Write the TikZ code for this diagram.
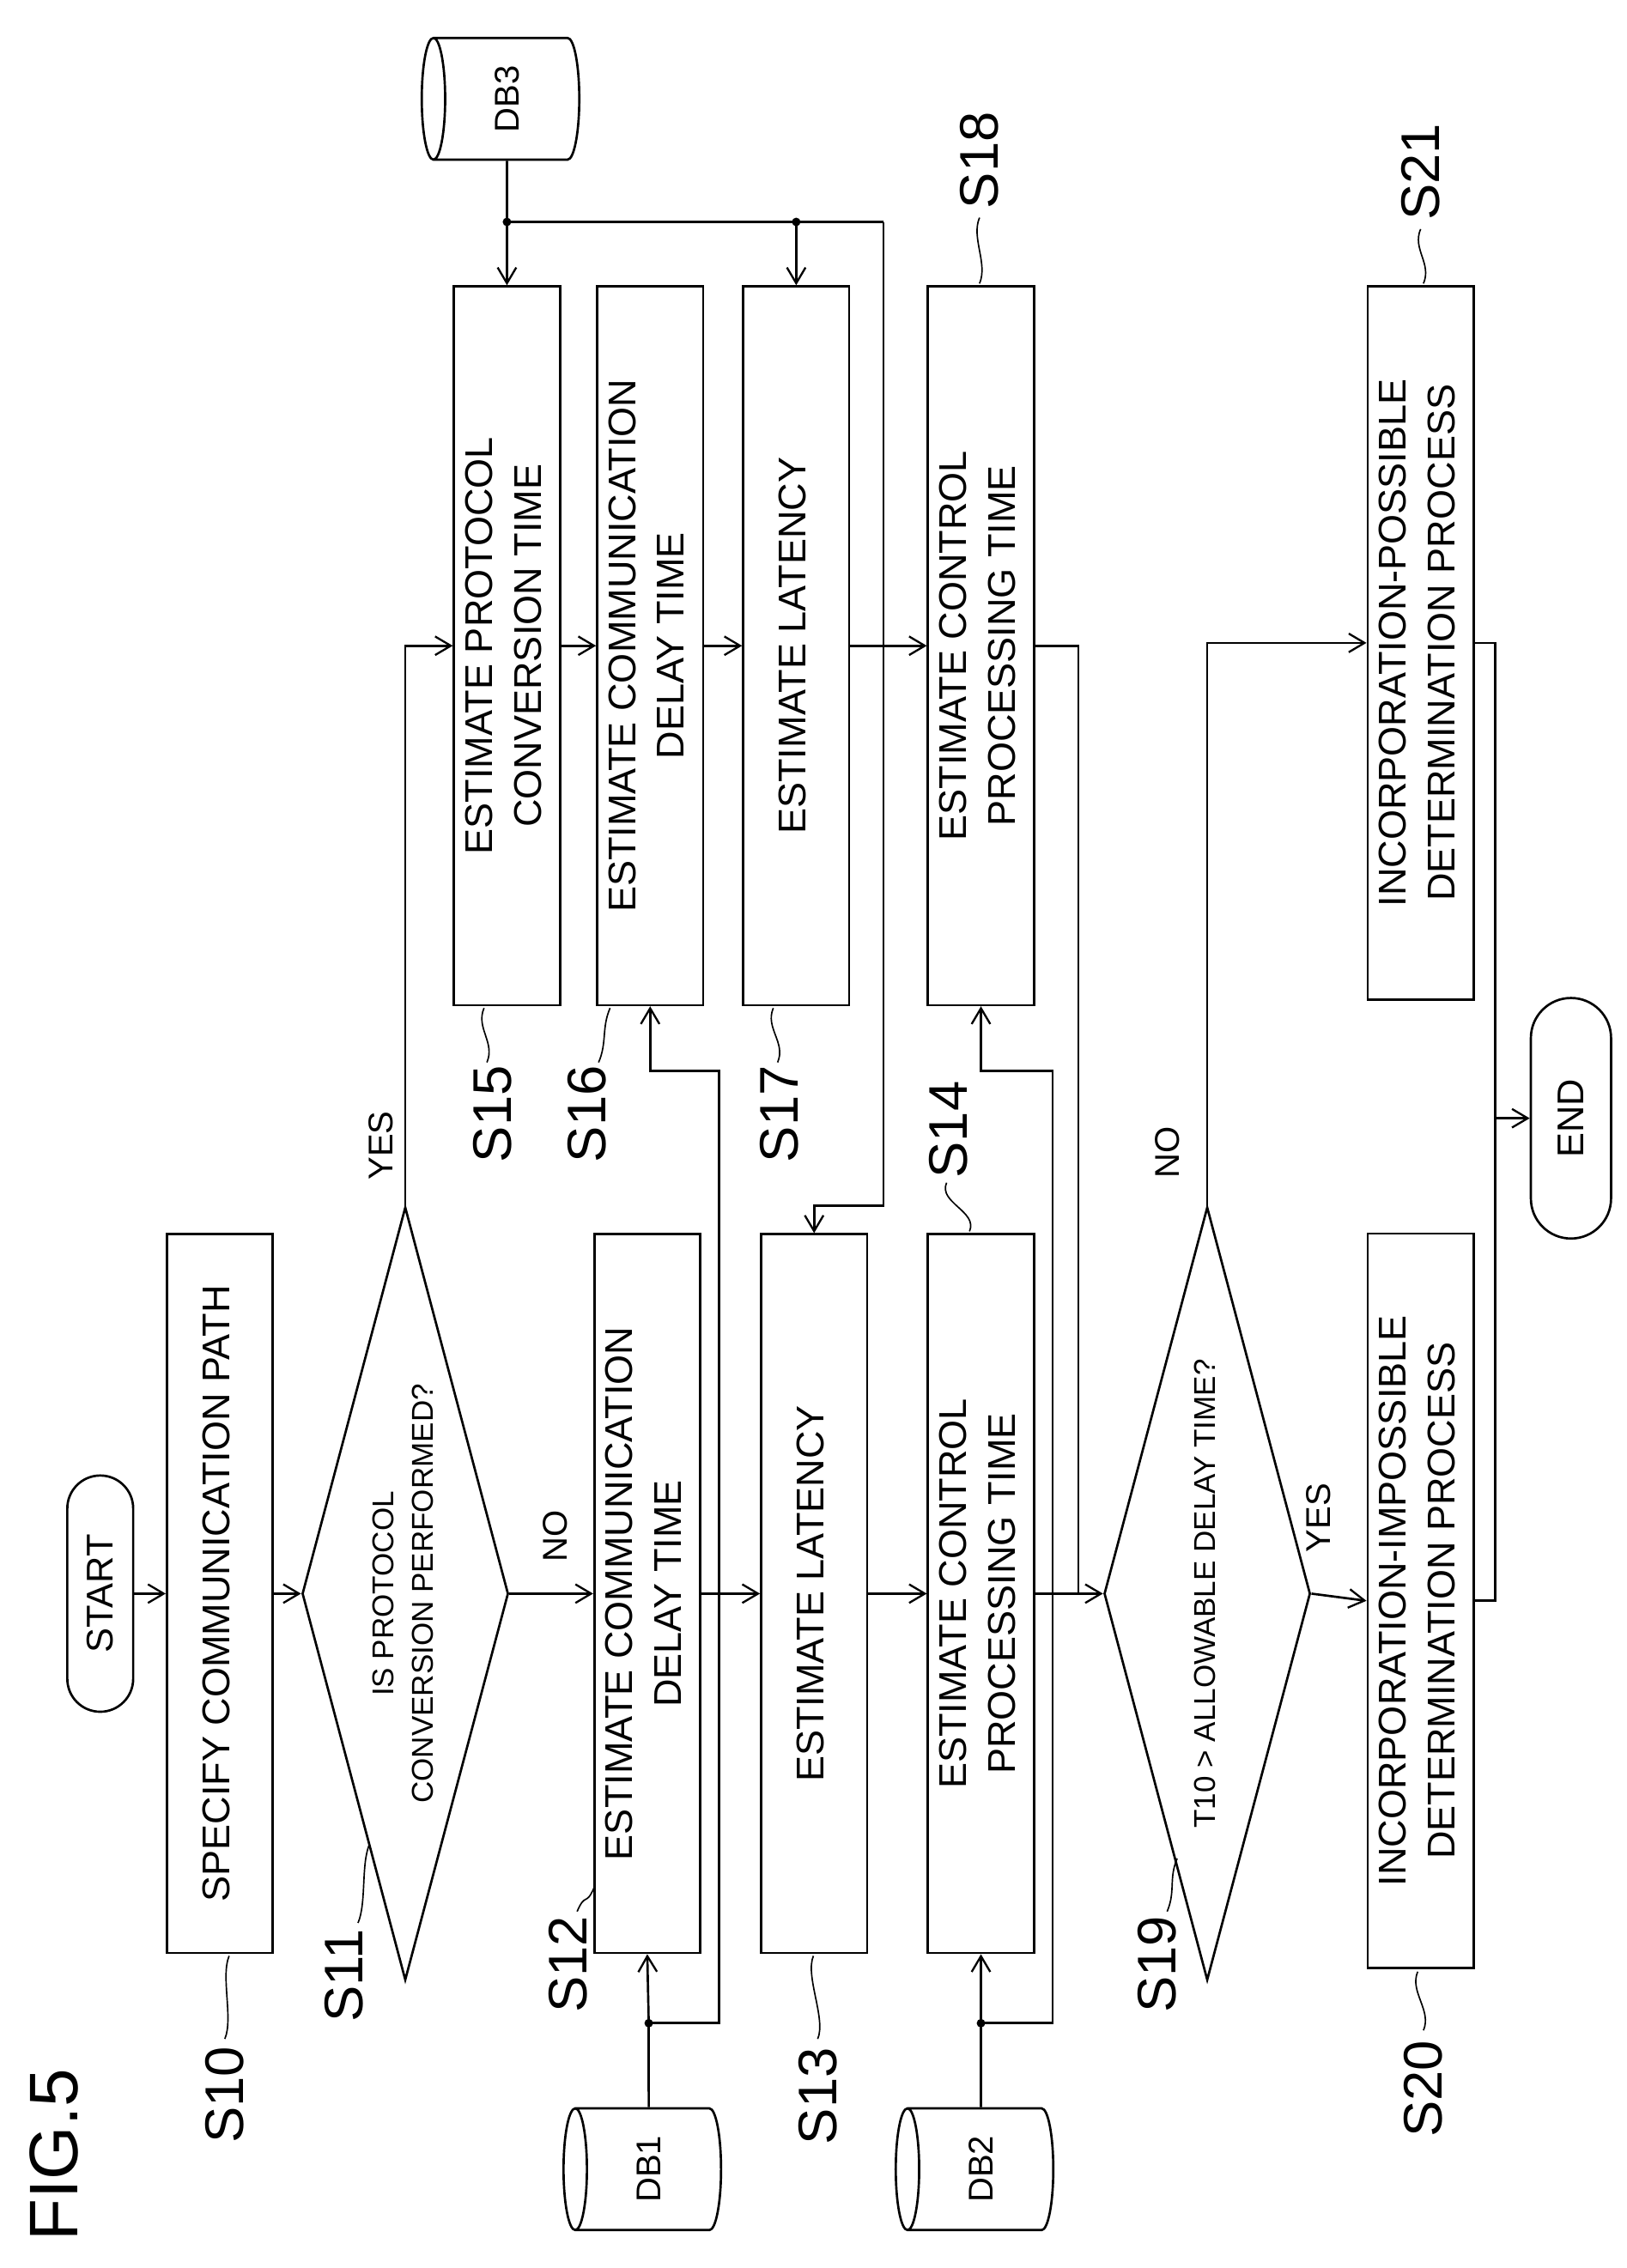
\documentclass[tikz,border=0pt]{standalone}
\usepackage{fontspec}
\setmainfont{Liberation Sans}
\usepackage{graphicx}
\usetikzlibrary{shapes.geometric,arrows.meta}
\newcommand{\rb}[1]{\rotatebox{90}{\begin{tabular}{@{}c@{}}#1\end{tabular}}}
\newcommand{\leadc}[2]{\draw[lead] (#1) .. controls ($(#1)+(6,-14)$) and ($(#2)+(-6,14)$) .. (#2);}
\usetikzlibrary{calc}
\begin{document}
\begin{tikzpicture}[x=1pt,y=-1pt,
 every node/.style={inner sep=0pt},
 ln/.style={line width=1.6pt},
 arr/.style={ln,-{Straight Barb[length=11pt,width=13pt,line width=1.4pt]}},
 box/.style={draw,ln,minimum width=74pt,minimum height=502pt,font=\fontsize{27}{34}\selectfont},
 dia/.style={draw,ln,diamond,aspect=0.267,minimum width=144pt,minimum height=540pt,font=\fontsize{21}{28}\selectfont},
 cyl/.style={draw,ln,cylinder,shape border rotate=180,aspect=0.35,minimum width=85pt,minimum height=110pt,font=\fontsize{24}{28}\selectfont},
 term/.style={draw,ln,font=\fontsize{26}{30}\selectfont},
 lab/.style={font=\fontsize{38}{40}\selectfont},
 yn/.style={font=\fontsize{24}{28}\selectfont},
 lead/.style={line width=1pt},
 dot/.style={fill,circle,minimum size=6pt}]
\useasboundingbox (0,0) rectangle (1136,1584);
% lower row
\node[term,minimum width=46pt,minimum height=165pt,rounded corners=23pt] (START) at (70,1113) {\rotatebox{90}{START}};
\node[box] (S10) at (153.5,1113) {\rb{SPECIFY COMMUNICATION PATH}};
\node[dia] (S11) at (283,1113) {\rb{IS PROTOCOL\\CONVERSION PERFORMED?}};
\node[box] (S12) at (452,1113) {\rb{ESTIMATE COMMUNICATION\\DELAY TIME}};
\node[box] (S13) at (568.5,1113) {\rb{ESTIMATE LATENCY}};
\node[box] (S14) at (685,1113) {\rb{ESTIMATE CONTROL\\PROCESSING TIME}};
\node[dia] (S19) at (843,1113) {\rb{T10 > ALLOWABLE DELAY TIME?}};
\node[box,minimum height=513pt] (S20) at (992,1118) {\rb{INCORPORATION-IMPOSSIBLE\\DETERMINATION PROCESS}};
% upper row
\node[box] (S15) at (354,451) {\rb{ESTIMATE PROTOCOL\\CONVERSION TIME}};
\node[box] (S16) at (454,451) {\rb{ESTIMATE COMMUNICATION\\DELAY TIME}};
\node[box] (S17) at (556,451) {\rb{ESTIMATE LATENCY}};
\node[box] (S18) at (685,451) {\rb{ESTIMATE CONTROL\\PROCESSING TIME}};
\node[box,minimum height=498pt] (S21) at (992,449) {\rb{INCORPORATION-POSSIBLE\\DETERMINATION PROCESS}};
\node[term,minimum width=56pt,minimum height=168pt,rounded corners=28pt] (END) at (1097,781) {\rotatebox{90}{END}};
% databases
\node[cyl] (DB1) at (453,1515) {\rotatebox{90}{DB1}};
\node[cyl] (DB2) at (685,1515) {\rotatebox{90}{DB2}};
\node[cyl] (DB3) at (354,69) {\rotatebox{90}{DB3}};
% coordinates
\coordinate (d3) at (354,155); \coordinate (d3b) at (556,155); \coordinate (r3) at (617,155);
\coordinate (r3b) at (617,842);
\coordinate (d1) at (453,1413); \coordinate (c1) at (502,1413); \coordinate (c1t) at (502,748);
\coordinate (d2) at (685,1413); \coordinate (c2) at (735,1413); \coordinate (c2t) at (735,748);
\coordinate (j18) at (753,1113); \coordinate (e) at (1044,781);
% main flow
\draw[arr] (START.east) -- (S10.west);
\draw[arr] (S10.east) -- (S11.west);
\draw[arr] (S11.east) -- (S12.west);
\draw[arr] (S12.east) -- (S13.west);
\draw[arr] (S13.east) -- (S14.west);
\draw[arr] (S14.east) -- (S19.west);
\draw[arr] (S19.east) -- (S20.west);
\draw[arr] (S11.north) |- (S15.west);
\draw[arr] (S19.north) |- (S21.west);
\draw[arr] (S15.east) -- (S16.west);
\draw[arr] (S16.east) -- (S17.west);
\draw[arr] (S17.east) -- (S18.west);
\draw[ln] (S18.east) -| (j18);
% DB3
\draw[ln] (DB3.south) -- (d3) -- (r3);
\draw[arr] (d3) -- (S15.north);
\draw[arr] (d3b) -- (S17.north);
\draw[arr] (r3) -- (r3b) -| (S13.north);
% DB1
\draw[ln] (DB1.north) -- (d1);
\draw[arr] (d1) -- (S12.south);
\draw[arr] (d1) -- (c1) -- (c1t) -| (S16.south);
% DB2
\draw[ln] (DB2.north) -- (d2);
\draw[arr] (d2) -- (S14.south);
\draw[arr] (d2) -- (c2) -- (c2t) -| (S18.south);
% END
\draw[ln] (S21.east) -| (e);
\draw[ln] (S20.east) -| (e);
\draw[arr] (e) -- (END.west);
\foreach \p in {d3,d3b,d1,d2} \node[dot] at (\p) {};
% yes/no
\node[yn] (y1) at (266,800) {\rotatebox{90}{YES}};
\node[yn] (n1) at (388,1073) {\rotatebox{90}{NO}};
\node[yn] (y2) at (921,1060) {\rotatebox{90}{YES}};
\node[yn] (n2) at (815,805) {\rotatebox{90}{NO}};
% step labels
\node[font=\fontsize{48}{52}\selectfont] (fig) at (38,1505) {\rotatebox{90}{FIG.5}};
\node[lab] (L10) at (157,1463) {\rotatebox{90}{S10}};
\node[lab] (L11) at (240,1380) {\rotatebox{90}{S11}};
\node[lab] (L12) at (397,1372) {\rotatebox{90}{S12}};
\node[lab] (L13) at (571,1464) {\rotatebox{90}{S13}};
\node[lab] (L19) at (808,1372) {\rotatebox{90}{S19}};
\node[lab] (L20) at (994,1459) {\rotatebox{90}{S20}};
\node[lab] (L15) at (344,778) {\rotatebox{90}{S15}};
\node[lab] (L16) at (410,778) {\rotatebox{90}{S16}};
\node[lab] (L17) at (544,778) {\rotatebox{90}{S17}};
\node[lab] (L14) at (662,789) {\rotatebox{90}{S14}};
\node[lab] (L18) at (684,112) {\rotatebox{90}{S18}};
\node[lab] (L21) at (992,120) {\rotatebox{90}{S21}};
\leadc{157,1424}{160,1366}
\leadc{250,1343}{258,1288}
\leadc{403,1335}{415,1318}
\leadc{571,1424}{568,1366}
\leadc{815,1335}{822,1298}
\leadc{994,1418}{990,1377}
\leadc{340,742}{338,704}
\leadc{418,742}{426,704}
\leadc{543,742}{540,704}
\leadc{677,860}{661,826}
\leadc{684,198}{684,152}
\leadc{994,198}{992,160}
\end{tikzpicture}
\end{document}
